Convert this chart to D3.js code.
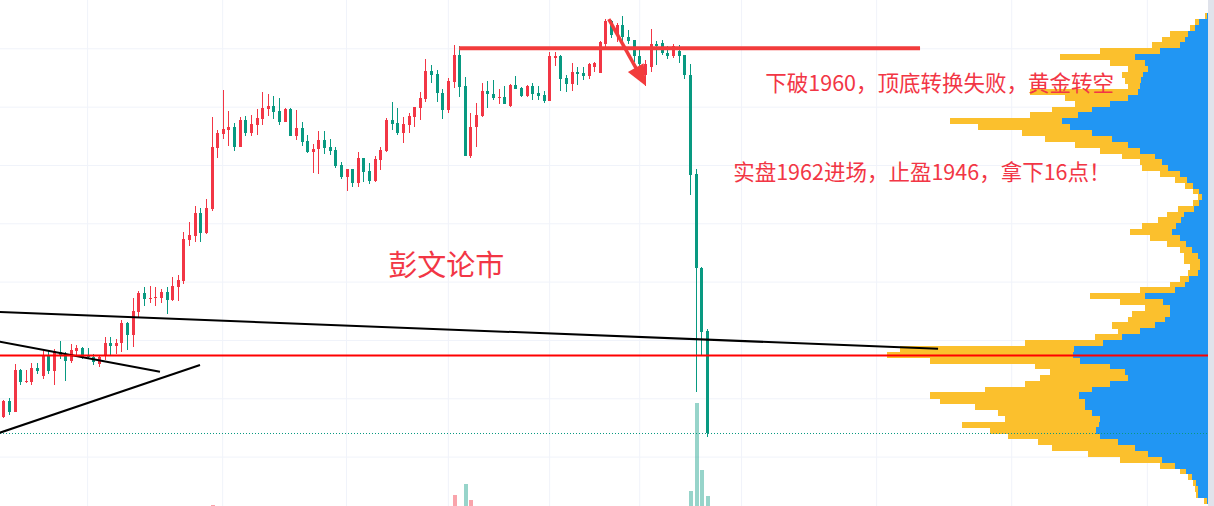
<!DOCTYPE html>
<html><head><meta charset="utf-8">
<script src="https://cdn.jsdelivr.net/npm/d3@7"></script>
<style>html,body{margin:0;padding:0;background:#fff;overflow:hidden}svg{display:block}</style>
</head><body>
<svg id="c" width="1214" height="506"></svg>
<script>
// ---------- data ----------
const opens=[1947.36,1947.91,1947.54,1948.97,1948.56,1948.56,1949.05,1948.76,1949.45,1948.94,
1949.59,1949.52,1949.28,1949.62,1949.72,1949.47,1949.41,1949.17,1949.45,1949.91,
1949.80,1949.88,1950.57,1950.17,1950.95,1951.60,1951.42,1951.43,1951.44,1951.63,
1951.37,1951.83,1952.02,1953.43,1953.57,1954.36,1953.68,1954.49,1956.59,1957.06,
1957.20,1957.31,1956.63,1957.54,1957.11,1957.37,1957.58,1957.92,1958.02,1957.85,
1957.49,1957.92,1957.01,1957.26,1956.82,1956.46,1956.54,1956.86,1956.61,1956.51,
1956.00,1955.57,1955.85,1955.37,1956.23,1955.79,1955.45,1956.17,1956.48,1957.54,
1957.43,1957.11,1957.37,1957.66,1957.97,1958.25,1959.22,1959.12,1958.48,1957.89,
1958.86,1959.77,1958.71,1956.32,1957.29,1957.68,1958.54,1958.44,1958.31,1958.32,
1958.02,1958.74,1958.63,1958.37,1958.71,1958.48,1958.40,1958.20,1959.68,1959.74,
1958.97,1958.78,1959.20,1959.17,1959.06,1959.37,1959.17,1960.14,1960.92,1960.46,
1960.80,1960.38,1960.29,1959.74,1959.09,1959.37,1960.15,1960.19,1959.85,1959.72,
1959.92,1959.77,1959.09,1955.69,1952.48,1950.31];
const highs=[1947.94,1948.01,1949.17,1949.00,1948.97,1949.21,1949.21,1949.62,1949.62,1949.69,
1949.96,1949.59,1949.86,1949.83,1949.76,1949.72,1949.52,1949.48,1950.11,1950.11,
1950.03,1950.68,1950.63,1951.45,1951.68,1951.83,1951.85,1951.83,1951.76,1951.83,
1952.16,1952.23,1953.71,1954.06,1954.59,1954.52,1954.83,1957.66,1957.20,1958.57,
1957.85,1957.43,1957.64,1957.68,1957.72,1957.91,1958.49,1958.44,1958.37,1958.29,
1957.97,1957.94,1957.89,1957.48,1957.03,1956.72,1957.17,1957.17,1956.89,1956.61,
1956.10,1955.86,1955.86,1956.44,1956.24,1956.06,1956.29,1956.61,1957.60,1958.15,
1957.97,1957.64,1957.77,1957.99,1958.51,1959.63,1959.43,1959.26,1958.60,1958.97,
1960.12,1960.08,1959.03,1957.77,1958.14,1958.80,1958.89,1958.92,1958.60,1958.71,
1958.78,1959.05,1958.69,1958.74,1958.82,1958.71,1958.54,1959.89,1959.89,1959.76,
1959.09,1959.51,1959.37,1959.37,1959.49,1959.54,1960.25,1961.00,1960.97,1960.86,
1961.11,1960.63,1960.30,1959.94,1959.60,1960.67,1960.25,1960.29,1960.08,1960.15,
1960.12,1959.78,1959.46,1955.86,1952.50,1950.36];
const lows=[1947.32,1947.43,1947.53,1948.45,1948.54,1948.45,1948.83,1948.66,1948.83,1948.47,
1949.35,1948.60,1949.21,1949.41,1949.35,1949.35,1949.14,1949.07,1949.31,1949.45,
1949.52,1949.60,1949.65,1949.77,1950.79,1951.17,1951.27,1951.16,1951.27,1950.89,
1951.35,1951.35,1951.92,1953.22,1953.37,1953.37,1953.63,1954.42,1956.25,1956.90,
1956.65,1956.49,1956.60,1957.00,1957.00,1957.03,1957.37,1957.68,1957.58,1957.37,
1957.47,1956.98,1956.86,1956.66,1956.42,1955.74,1955.69,1956.38,1956.34,1955.91,
1955.51,1955.12,1955.26,1955.26,1955.43,1955.35,1955.43,1955.83,1956.44,1957.20,
1957.03,1956.77,1957.11,1957.31,1957.54,1958.17,1958.82,1958.17,1957.58,1957.77,
1958.63,1958.32,1956.29,1956.25,1956.63,1957.66,1957.97,1958.23,1958.08,1958.08,
1958.00,1958.59,1958.34,1958.34,1958.23,1958.23,1958.14,1958.18,1959.40,1958.54,
1958.51,1958.54,1958.74,1958.92,1958.95,1959.20,1959.16,1960.06,1960.35,1960.23,
1960.23,1960.15,1959.54,1959.33,1958.71,1959.20,1959.43,1959.77,1959.64,1959.66,
1959.51,1958.95,1954.97,1948.22,1949.48,1946.66];
const closes=[1947.91,1947.53,1948.97,1948.56,1948.59,1949.04,1948.94,1949.45,1948.94,1949.62,
1949.45,1949.29,1949.64,1949.72,1949.40,1949.40,1949.23,1949.41,1949.91,1949.80,
1949.91,1950.57,1950.17,1950.99,1951.62,1951.40,1951.45,1951.47,1951.63,1951.37,
1951.85,1952.06,1953.46,1953.60,1954.36,1953.68,1954.52,1956.61,1957.11,1957.24,
1957.31,1956.63,1957.54,1957.11,1957.41,1957.62,1957.95,1958.02,1957.83,1957.49,
1957.92,1957.00,1957.28,1956.80,1956.46,1956.55,1956.86,1956.59,1956.49,1955.97,
1955.57,1955.86,1955.37,1956.23,1955.77,1955.45,1956.21,1956.51,1957.54,1957.41,
1957.10,1957.40,1957.68,1957.98,1958.29,1959.22,1959.09,1958.48,1957.89,1958.88,
1959.77,1958.69,1956.32,1957.31,1957.72,1958.54,1958.43,1958.29,1958.34,1958.09,
1958.74,1958.61,1958.37,1958.71,1958.44,1958.38,1958.20,1959.72,1959.74,1958.95,
1958.78,1959.20,1959.12,1959.06,1959.46,1959.49,1960.20,1960.92,1960.46,1960.80,
1960.38,1960.26,1959.72,1959.46,1959.46,1960.15,1960.07,1959.84,1959.72,1960.08,
1959.75,1959.09,1955.66,1952.48,1950.28,1946.80];
const volumes=[0,0,0,0,0,0,0,0,0,0, 0,0,0,0,0,0,0,0,0,0, 0,0,0,0,0,0,0,0,0,0,
0,0,0,0,0,0,0,150,0,0, 0,0,0,0,0,0,0,0,0,0, 0,0,0,0,0,0,0,0,0,0,
0,0,0,0,0,0,0,0,0,0, 0,0,0,0,0,0,0,0,0,0, 1100,0,2200,600,0,0,0,0,0,0,
0,0,0,0,0,0,0,0,0,0, 0,0,0,0,0,0,0,0,0,0, 0,0,0,0,0,0,0,0,0,0,
0,0,1500,10300,3600,1000];

// volume profile: row centre price, total volume, up volume
const profLevels=[1961.1,1960.9,1960.7,1960.5,1960.3,1960.1,1959.9,1959.7,1959.5,1959.3,
1959.1,1958.9,1958.7,1958.5,1958.3,1958.1,1957.9,1957.7,1957.5,1957.3,
1957.1,1956.9,1956.7,1956.5,1956.3,1956.1,1955.9,1955.7,1955.5,1955.3,
1955.1,1954.9,1954.7,1954.5,1954.3,1954.1,1953.9,1953.7,1953.5,1953.3,
1953.1,1952.9,1952.7,1952.5,1952.3,1952.1,1951.9,1951.7,1951.5,1951.3,
1951.1,1950.9,1950.7,1950.5,1950.3,1950.1,1949.9,1949.7,1949.5,1949.3,
1949.1,1948.9,1948.7,1948.5,1948.3,1948.1,1947.9,1947.7,1947.5,1947.3,
1947.1,1946.9,1946.7,1946.5,1946.3,1946.1,1945.9,1945.7,1945.5,1945.3,
1945.1,1944.9,1944.7,1944.5];
const profTotal=[30,130,180,380,460,560,1080,1480,980,800,860,830,800,1780,1430,1330,1560,1780,2580,2300,
1860,1630,1330,1080,860,680,660,480,330,230,150,100,150,300,410,500,660,780,580,410,
280,240,240,180,200,280,380,680,1180,880,630,760,800,960,900,1130,1830,3080,3210,2780,
1730,1580,1680,1830,2230,2780,2680,2330,2100,2030,2460,2180,2000,1700,1560,1200,880,480,280,200,
150,130,120,40];
const profUp=[10,90,130,200,230,280,480,730,630,600,650,670,680,700,800,980,1160,1300,1460,1380,
1160,960,800,680,530,460,400,280,210,150,90,60,90,140,240,270,320,360,280,220,
160,100,80,80,100,190,230,330,630,450,380,380,430,530,680,860,1050,1340,1350,1280,
980,830,800,980,1160,1290,1230,1230,1160,1080,1090,1120,1080,900,730,600,460,330,220,160,
120,100,100,10];
const profStep=0.2;

const priceTicks=[1946,1948,1950,1952,1954,1956,1958,1960];
const timeGrid=[14.8,38.8,60.8,78.9,96.9,112.9,131.0,155.0,179.0,203.1];

const lastPrice=closes[closes.length-1];
const supportLevel=1949.47;
const resistance={i1:80.9,i2:162.8,p:1960};
const trendLines=[
  {i1:-0.7,p1:1950.96,i2:166.0,p2:1949.70},
  {i1:-0.7,p1:1949.94,i2:27.75,p2:1948.91},
  {i1:-0.7,p1:1946.82,i2:34.86,p2:1949.14}
];
const arrow={i1:107.5,p1:1961.00,i2:114.1,p2:1958.71};
const notes=[
  {text:"下破1960，顶底转换失败，黄金转空",i:135.3,p:1958.54,size:21.5},
  {text:"实盘1962进场，止盈1946，拿下16点！",i:129.6,p:1955.48,size:21.5},
  {text:"彭文论市",i:68.3,p:1952.19,size:29}
];

// ---------- drawing ----------
const W=1214,H=506,profRight=1208;
const UP="#f23645",DOWN="#089981";
const svg=d3.select("#c");
const x=d3.scaleLinear().domain([0,125]).range([3.8,707.3]);
const y=d3.scaleLinear().domain([1946,1960]).range([456.6,48.3]);
const yv=d3.scaleLinear().domain([0,10300]).range([H,403]);
const pw=d3.scaleLinear().domain([0,3300]).range([0,330]);

// grid via axes
const gy=svg.append("g")
  .call(d3.axisRight(y).tickValues(priceTicks).tickSize(profRight).tickFormat(""));
gy.select(".domain").remove();
gy.selectAll("line").attr("stroke","#f0f3fa");
const gx=svg.append("g")
  .call(d3.axisBottom(x).tickValues(timeGrid).tickSize(H).tickFormat(""));
gx.select(".domain").remove();
gx.selectAll("line").attr("stroke","#f0f3fa");

// volume
svg.append("g").selectAll("rect").data(volumes).join("rect")
  .attr("x",(d,i)=>Math.floor(x(i))-1).attr("width",4)
  .attr("y",d=>yv(d)).attr("height",d=>H-yv(d))
  .attr("fill",(d,i)=>closes[i]>=opens[i]?"rgba(242,54,69,0.45)":"rgba(8,153,129,0.42)")
  .attr("shape-rendering","crispEdges");

// volume profile
const prof=svg.append("g").attr("shape-rendering","crispEdges");
prof.selectAll("rect.t").data(profLevels).join("rect").attr("class","t")
  .attr("x",(d,i)=>profRight-pw(profTotal[i])).attr("width",(d,i)=>pw(profTotal[i]))
  .attr("y",d=>y(d+profStep/2)).attr("height",d=>y(d-profStep/2)-y(d+profStep/2)+0.3)
  .attr("fill","#fbc02d");
prof.selectAll("rect.u").data(profLevels).join("rect").attr("class","u")
  .attr("x",(d,i)=>profRight-pw(profUp[i])).attr("width",(d,i)=>pw(profUp[i]))
  .attr("y",d=>y(d+profStep/2)).attr("height",d=>y(d-profStep/2)-y(d+profStep/2)+0.3)
  .attr("fill","#2196f3");
svg.append("rect").attr("x",profRight).attr("y",0).attr("width",W-profRight).attr("height",H).attr("fill","#e0e3eb");

// candles
const cg=svg.append("g").attr("shape-rendering","crispEdges");
const idx=d3.range(opens.length);
cg.selectAll("rect.w").data(idx).join("rect").attr("class","w")
  .attr("x",i=>Math.floor(x(i))).attr("width",1)
  .attr("y",i=>y(highs[i])).attr("height",i=>Math.max(1,y(lows[i])-y(highs[i])))
  .attr("fill",i=>closes[i]>=opens[i]?UP:DOWN);
cg.selectAll("rect.b").data(idx).join("rect").attr("class","b")
  .attr("x",i=>Math.floor(x(i))-1).attr("width",3)
  .attr("y",i=>y(Math.max(opens[i],closes[i])))
  .attr("height",i=>Math.max(1,Math.abs(y(opens[i])-y(closes[i]))))
  .attr("fill",i=>closes[i]>=opens[i]?UP:DOWN);

// last price dotted line
svg.append("line").attr("x1",0).attr("x2",profRight)
  .attr("y1",Math.round(y(lastPrice))+0.5).attr("y2",Math.round(y(lastPrice))+0.5)
  .attr("stroke",DOWN).attr("stroke-width",1).attr("stroke-dasharray","1,2");

// trend lines
svg.append("g").selectAll("line").data(trendLines).join("line")
  .attr("x1",d=>x(d.i1)).attr("y1",d=>y(d.p1)).attr("x2",d=>x(d.i2)).attr("y2",d=>y(d.p2))
  .attr("stroke","#000").attr("stroke-width",2);

// support line
svg.append("line").attr("x1",0).attr("x2",profRight)
  .attr("y1",y(supportLevel)).attr("y2",y(supportLevel))
  .attr("stroke","#ff0000").attr("stroke-width",2);

// resistance thick line
svg.append("line").attr("x1",x(resistance.i1)).attr("x2",x(resistance.i2))
  .attr("y1",y(resistance.p)).attr("y2",y(resistance.p))
  .attr("stroke","#f23c3c").attr("stroke-width",4);

// arrow
{
  const ax1=x(arrow.i1),ay1=y(arrow.p1),ax2=x(arrow.i2),ay2=y(arrow.p2);
  const dx=ax2-ax1,dy=ay2-ay1,L=Math.hypot(dx,dy),ux=dx/L,uy=dy/L,nx=-uy,ny=ux;
  const hl=21,hw=9,bx=ax2-hl*ux,by=ay2-hl*uy;
  svg.append("line").attr("x1",ax1).attr("y1",ay1).attr("x2",bx+2*ux).attr("y2",by+2*uy)
    .attr("stroke","#f23c3c").attr("stroke-width",3.5);
  svg.append("path").attr("d",`M${ax2},${ay2}L${bx+hw*nx},${by+hw*ny}L${bx-hw*nx},${by-hw*ny}Z`)
    .attr("fill","#f23c3c");
}

// texts
svg.append("g").selectAll("text").data(notes).join("text")
  .attr("x",d=>x(d.i)).attr("y",d=>y(d.p))
  .attr("font-family","'Noto Sans CJK SC','Noto Sans',sans-serif")
  .attr("font-size",d=>d.size).attr("fill","#f23645").text(d=>d.text);
</script>
</body></html>
